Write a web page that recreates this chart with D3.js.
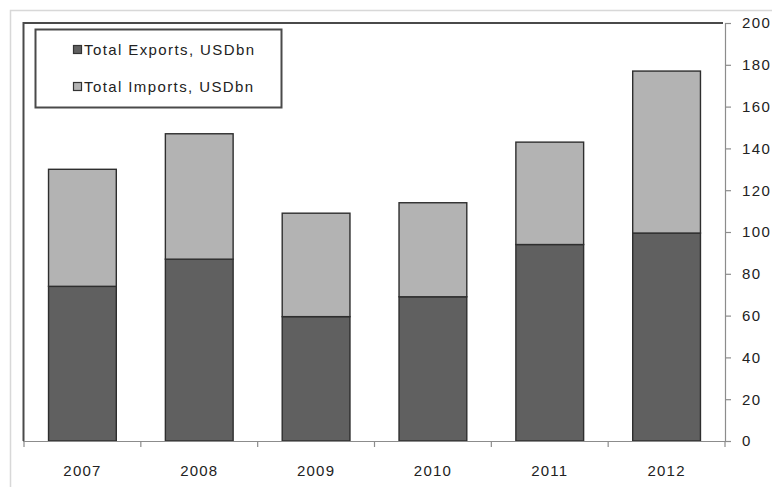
<!DOCTYPE html>
<html>
<head>
<meta charset="utf-8">
<script src="https://cdn.jsdelivr.net/npm/d3@7"></script>
<style>
  html, body { margin: 0; padding: 0; background: #fff; }
  svg { display: block; }
  text { font-family: "Liberation Sans", Arial, sans-serif; fill: #222; }
</style>
</head>
<body>
<svg id="chart" width="772" height="487"></svg>
<script>
// Trade totals by year, USD bn
const years = ["2007", "2008", "2009", "2010", "2011", "2012"];
const exportsUsd = [74, 87, 59.5, 69, 94, 99.5];
const importsUsd = [56, 60, 49.5, 45, 49, 77.5];
const seriesNames = ["Total Exports, USDbn", "Total Imports, USDbn"];
const yTicks = [0, 20, 40, 60, 80, 100, 120, 140, 160, 180, 200];

const colors = ["#606060", "#b3b3b3"];

const svg = d3.select("#chart");
const plot = { left: 24, right: 725, top: 23, bottom: 441 };

const x = d3.scaleBand()
  .domain(years)
  .range([plot.left, plot.right])
  .paddingInner(0.42)
  .paddingOuter(0.21);

const y = d3.scaleLinear()
  .domain([0, 200])
  .range([plot.bottom, plot.top]);

// outer light frame
svg.append("path")
  .attr("d", `M10.5,487 V10.5 H772`)
  .attr("fill", "none")
  .attr("stroke", "#d8d8d8")
  .attr("stroke-width", 1.5);

// stacked data
const rows = years.map((yr, i) => ({ year: yr, exp: exportsUsd[i], imp: importsUsd[i] }));
const stacked = d3.stack().keys(["exp", "imp"])(rows);

const layers = svg.append("g").selectAll("g")
  .data(stacked)
  .join("g")
  .attr("fill", (d, i) => colors[i]);

layers.selectAll("rect")
  .data(d => d)
  .join("rect")
  .attr("x", d => x(d.data.year))
  .attr("width", x.bandwidth())
  .attr("y", d => y(d[1]))
  .attr("height", d => y(d[0]) - y(d[1]))
  .attr("stroke", "#2e2e2e")
  .attr("stroke-width", 1.4);

// plot area border (top and left)
svg.append("path")
  .attr("d", `M${plot.left - 0.5},${plot.bottom} V${plot.top} H${plot.right - 2}`)
  .attr("fill", "none")
  .attr("stroke", "#4a4a4a")
  .attr("stroke-width", 2);

// right value axis
const yAxis = svg.append("g")
  .attr("transform", `translate(${plot.right},0)`)
  .call(d3.axisRight(y).tickValues(yTicks).tickSize(6).tickPadding(11));
yAxis.select(".domain").attr("stroke", "#8c8c8c").attr("stroke-width", 1.2);
yAxis.selectAll(".tick line").attr("stroke", "#8c8c8c").attr("stroke-width", 1.2);
yAxis.selectAll("text")
  .style("font-size", "15px")
  .style("letter-spacing", "1.4px")
  .style("fill", "#222");

// bottom category axis
const xAxis = svg.append("g")
  .attr("transform", `translate(0,${plot.bottom})`)
  .call(d3.axisBottom(x).tickSize(0).tickPadding(24));
xAxis.select(".domain").remove();
xAxis.selectAll("text")
  .style("font-size", "15px")
  .style("letter-spacing", "1.2px")
  .style("fill", "#222");

svg.append("line")
  .attr("x1", plot.left - 1).attr("x2", plot.right)
  .attr("y1", plot.bottom + 0.5).attr("y2", plot.bottom + 0.5)
  .attr("stroke", "#8c8c8c").attr("stroke-width", 1.2);

// category boundary ticks
const bounds = d3.range(years.length + 1).map(i => plot.left + i * x.step());
svg.append("g").selectAll("line")
  .data(bounds)
  .join("line")
  .attr("x1", d => d).attr("x2", d => d)
  .attr("y1", plot.bottom).attr("y2", plot.bottom + 6)
  .attr("stroke", "#8c8c8c").attr("stroke-width", 1.2);

// legend
const legend = svg.append("g");
legend.append("rect")
  .attr("x", 35.5).attr("y", 29.5)
  .attr("width", 246).attr("height", 78)
  .attr("fill", "#fff")
  .attr("stroke", "#4a4a4a")
  .attr("stroke-width", 2);

const items = legend.selectAll("g.item")
  .data(seriesNames)
  .join("g")
  .attr("class", "item")
  .attr("transform", (d, i) => `translate(0,${i * 37})`);

items.append("rect")
  .attr("x", 73.5).attr("y", 45.5)
  .attr("width", 8).attr("height", 8)
  .attr("fill", (d, i) => colors[i])
  .attr("stroke", "#333")
  .attr("stroke-width", 1.2);

items.append("text")
  .attr("x", 84).attr("y", 55)
  .style("font-size", "15px")
  .style("letter-spacing", "1.4px")
  .text(d => d);
</script>
</body>
</html>
